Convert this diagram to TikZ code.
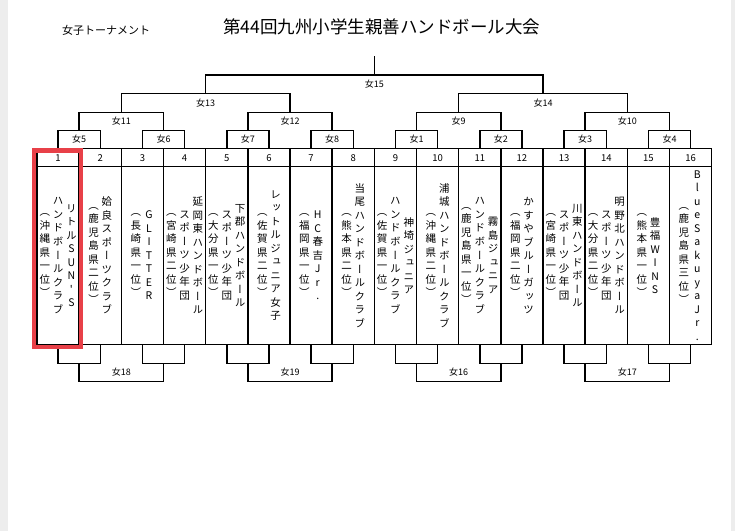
\documentclass[tikz,border=0pt]{standalone}
\usepackage{fontspec}
\setmainfont{Noto Sans CJK JP}
\newfontfamily\tatefont[RawFeature={+vert}]{Noto Sans CJK JP}
\usetikzlibrary{positioning}
\definecolor{hilite}{RGB}{232,64,72}

\makeatletter
\newcommand\tatebox[1]{\vbox{\tatefont\fontsize{10.5}{13.5}\selectfont
	\baselineskip=13.5pt\lineskiplimit=-\maxdimen\lineskip=0pt
	\@tfor\tate@c:=#1\do{\hbox to 12pt{\hss\tate@c\hss}}}}
\makeatother
\newcommand\tate[1]{$\vcenter{\tatebox{#1}}$}
\newcommand\gap{\kern1.3pt}

\begin{document}
\begin{tikzpicture}[x=1pt,y=-1pt,
	line/.style={line width=1.5pt,line cap=rect},
	lbl/.style={font=\fontsize{9}{10}\selectfont,inner sep=0pt},
	num/.style={font=\fontsize{9.5}{10}\selectfont,inner sep=0pt},
	team/.style={inner sep=0pt}]
	\useasboundingbox (0,0) rectangle (735,531);
	\fill[black!7] (0,0) rectangle (8,531);
	\fill[black!7] (731,0) rectangle (735,531);

	\node (title) at (381.7,26.7) {\fontsize{17.5}{20}\selectfont 第44回九州小学生親善ハンドボール大会};
	\node (sub) at (106,30) {\fontsize{11}{12}\selectfont 女子トーナメント};

	\foreach \i in {1,...,16} {
		\pgfmathsetmacro\cx{37+(\i-0.5)*42.17}
		\coordinate (top\i) at (\cx,148.7);
		\coordinate (bot\i) at (\cx,344.3);
		\coordinate (mid\i) at (\cx,255.5);
		\node[num] (num\i) at (\cx,157.7) {\i};
	}

	\draw[line] (37,148.7) rectangle (711.7,344.3);
	\draw[line] (37,166.7) -- (711.7,166.7);
	\foreach \i in {1,...,15}
		\draw[line] ({37+\i*42.17},148.7) -- ({37+\i*42.17},344.3);

	% first round, above and below the table
	\foreach \k/\name in {1/5,2/6,3/7,4/8,5/1,6/2,7/3,8/4} {
		\pgfmathtruncatemacro\a{2*\k-1}
		\pgfmathtruncatemacro\b{2*\k}
		\pgfmathsetmacro\mx{37+(2*\k-1)*42.17}
		\coordinate (ua\k) at (\mx,130.3);
		\coordinate (da\k) at (\mx,363.3);
		\draw[line] (top\a) |- (ua\k) -| (top\b);
		\draw[line] (bot\a) |- (da\k) -| (bot\b);
		\node[lbl] (ja\k) at (\mx,139.5) {女\name};
	}
	\foreach \k/\name/\low in {1/11/18,2/12/19,3/9/16,4/10/17} {
		\pgfmathtruncatemacro\a{2*\k-1}
		\pgfmathtruncatemacro\b{2*\k}
		\pgfmathsetmacro\mx{37+(4*\k-2)*42.17}
		\coordinate (ub\k) at (\mx,112.3);
		\coordinate (db\k) at (\mx,381.7);
		\draw[line] (ua\a) |- (ub\k) -| (ua\b);
		\draw[line] (da\a) |- (db\k) -| (da\b);
		\node[lbl] (jb\k) at (\mx,121.5) {女\name};
		\node[lbl] (kb\k) at (\mx,372.5) {女\low};
	}
	\coordinate (uc1) at (205.68,93.3);
	\coordinate (uc2) at (543.04,93.3);
	\coordinate (ud) at (374.36,75);
	\coordinate (apex) at (374.36,56.7);
	\draw[line] (ub1) |- (uc1) -| (ub2);
	\draw[line] (ub3) |- (uc2) -| (ub4);
	\draw[line] (uc1) |- (ud) -| (uc2);
	\draw[line] (ud) -- (apex);
	\node[lbl] (jc1) at (205.7,103) {女13};
	\node[lbl] (jc2) at (543,103) {女14};
	\node[lbl] (jd) at (374.4,84.3) {女15};

	\node[team] (team1) at (mid1) {\tate{（沖縄県一位）}\gap\tate{ハンドボールクラブ}\gap\tate{リトルSUN'S}};
	\node[team] (team2) at (mid2) {\tate{（鹿児島県二位）}\gap\tate{姶良スポーツクラブ}};
	\node[team] (team3) at (mid3) {\tate{（長崎県一位）}\gap\tate{GLITTER}};
	\node[team] (team4) at (mid4) {\tate{（宮崎県二位）}\gap\tate{スポーツ少年団}\gap\tate{延岡東ハンドボール}};
	\node[team] (team5) at (mid5) {\tate{（大分県一位）}\gap\tate{スポーツ少年団}\gap\tate{下郡ハンドボール}};
	\node[team] (team6) at (mid6) {\tate{（佐賀県二位）}\gap\tate{レットルジュニア女子}};
	\node[team] (team7) at (mid7) {\tate{（福岡県一位）}\gap\tate{HC春吉Jr.}};
	\node[team] (team8) at (mid8) {\tate{（熊本県二位）}\gap\tate{当尾ハンドボールクラブ}};
	\node[team] (team9) at (mid9) {\tate{（佐賀県一位）}\gap\tate{ハンドボールクラブ}\gap\tate{神埼ジュニア}};
	\node[team] (team10) at (mid10) {\tate{（沖縄県二位）}\gap\tate{浦城ハンドボールクラブ}};
	\node[team] (team11) at (mid11) {\tate{（鹿児島県一位）}\gap\tate{ハンドボールクラブ}\gap\tate{霧島ジュニア}};
	\node[team] (team12) at (mid12) {\tate{（福岡県二位）}\gap\tate{かすやブルーガッツ}};
	\node[team] (team13) at (mid13) {\tate{（宮崎県一位）}\gap\tate{スポーツ少年団}\gap\tate{川東ハンドボール}};
	\node[team] (team14) at (mid14) {\tate{（大分県二位）}\gap\tate{スポーツ少年団}\gap\tate{明野北ハンドボール}};
	\node[team] (team15) at (mid15) {\tate{（熊本県一位）}\gap\tate{豊福WINS}};
	\node[team] (team16) at (mid16) {\tate{（鹿児島県三位）}\gap\tate{BlueSakuyaJr.}};

	\draw[line width=4.5pt,hilite] (33.8,150.3) rectangle (81.2,347.2);
\end{tikzpicture}
\end{document}
